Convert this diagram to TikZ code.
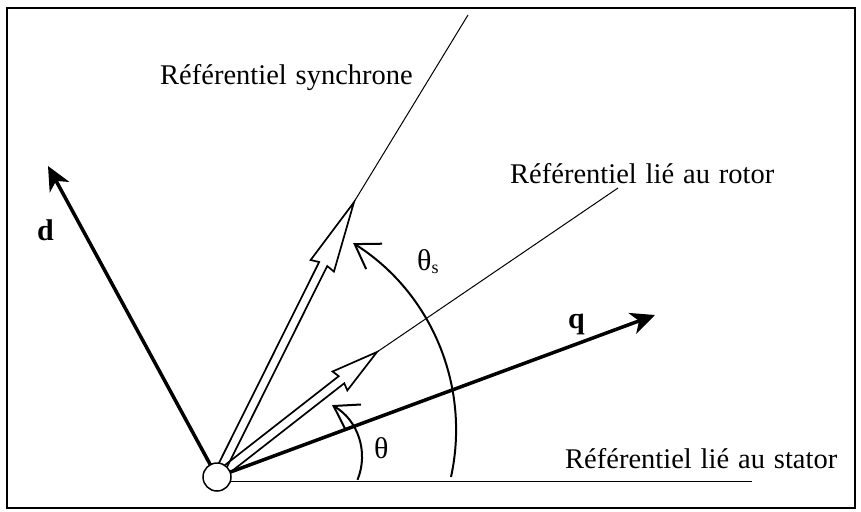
\documentclass[tikz,border=0pt]{standalone}
\usepackage{fontspec}
\setmainfont{Liberation Serif}[WordSpace=1.25]
\usetikzlibrary{arrows.meta,calc}
\begin{document}
\begin{tikzpicture}[x=1pt,y=-1pt,
  lbl/.style={anchor=base west, inner sep=0pt, font=\fontsize{28.5}{32}\selectfont},
  axislbl/.style={anchor=base west, inner sep=0pt, font=\fontsize{30}{34}\selectfont\bfseries},
  axisarrow/.style={line width=3.5pt, -{Stealth[length=24pt,width=22pt,inset=7pt]}},
  thinline/.style={line width=1pt},
  angarc/.style={line width=2pt, -{Straight Barb[length=23pt,width=30pt]}},
  hollow/.style={line width=1.7pt, line join=miter},
]
\useasboundingbox (0,0) rectangle (861,511);
\draw[line width=2pt] (7,8) rectangle (855,508);
\coordinate (O) at (217,477);

% stator reference line
\coordinate (Sst) at (217,481);
\coordinate (Send) at (752,481);
\draw[thinline] (Sst) -- (Send);

% extension lines of the hollow arrows
\coordinate (St) at (354,202);
\coordinate (Sx) at (468,15);
\coordinate (Rt) at (377,352);
\coordinate (Rx) at (618,188);
\draw[thinline] (St) -- (Sx);
\draw[thinline] (Rt) -- (Rx);

% hollow arrow: synchronous frame
\begin{scope}[shift={(O)}, rotate=63.5]
  \draw[hollow] (0,-4.5) -- (238,-4.5) -- (236,-13) -- (307,0) -- (236,13) -- (238,4.5) -- (0,4.5) -- cycle;
\end{scope}
% hollow arrow: rotor frame
\begin{scope}[shift={(O)}, rotate=38]
  \draw[hollow] (0,-4.5) -- (158,-4.5) -- (156,-12) -- (203,0) -- (156,12) -- (158,4.5) -- (0,4.5) -- cycle;
\end{scope}

% d and q axes
\coordinate (Dt) at (48,166);
\coordinate (Qt) at (655,315);
\draw[axisarrow] (O) -- (Dt);
\draw[axisarrow] (O) -- (Qt);

% angle arcs
\draw[angarc] (451,477) arc[start angle=12.3, end angle=-57.7, radius=221];
\draw[angarc] (357.5,479.8) arc[start angle=22.3, end angle=-60, radius=60];

% origin
\node[circle, draw, fill=white, line width=1.5pt, minimum size=28pt, inner sep=0pt] (Oc) at (O) {};

% labels
\node[lbl] (Lsync) at (160,84) {Référentiel synchrone};
\node[lbl] (Lrot) at (510,183) {Référentiel lié au rotor};
\node[lbl] (Lsta) at (565,468) {Référentiel lié au stator};
\node[axislbl] (Ld) at (37,240) {d};
\node[axislbl] (Lq) at (568,328) {q};
\node[lbl, font=\fontsize{30}{34}\selectfont] (Lths) at (417,270) {θ\raisebox{-3pt}{\fontsize{18}{20}\selectfont s}};
\node[lbl, font=\fontsize{30}{34}\selectfont] (Lth) at (374,458) {θ};
\end{tikzpicture}
\end{document}
